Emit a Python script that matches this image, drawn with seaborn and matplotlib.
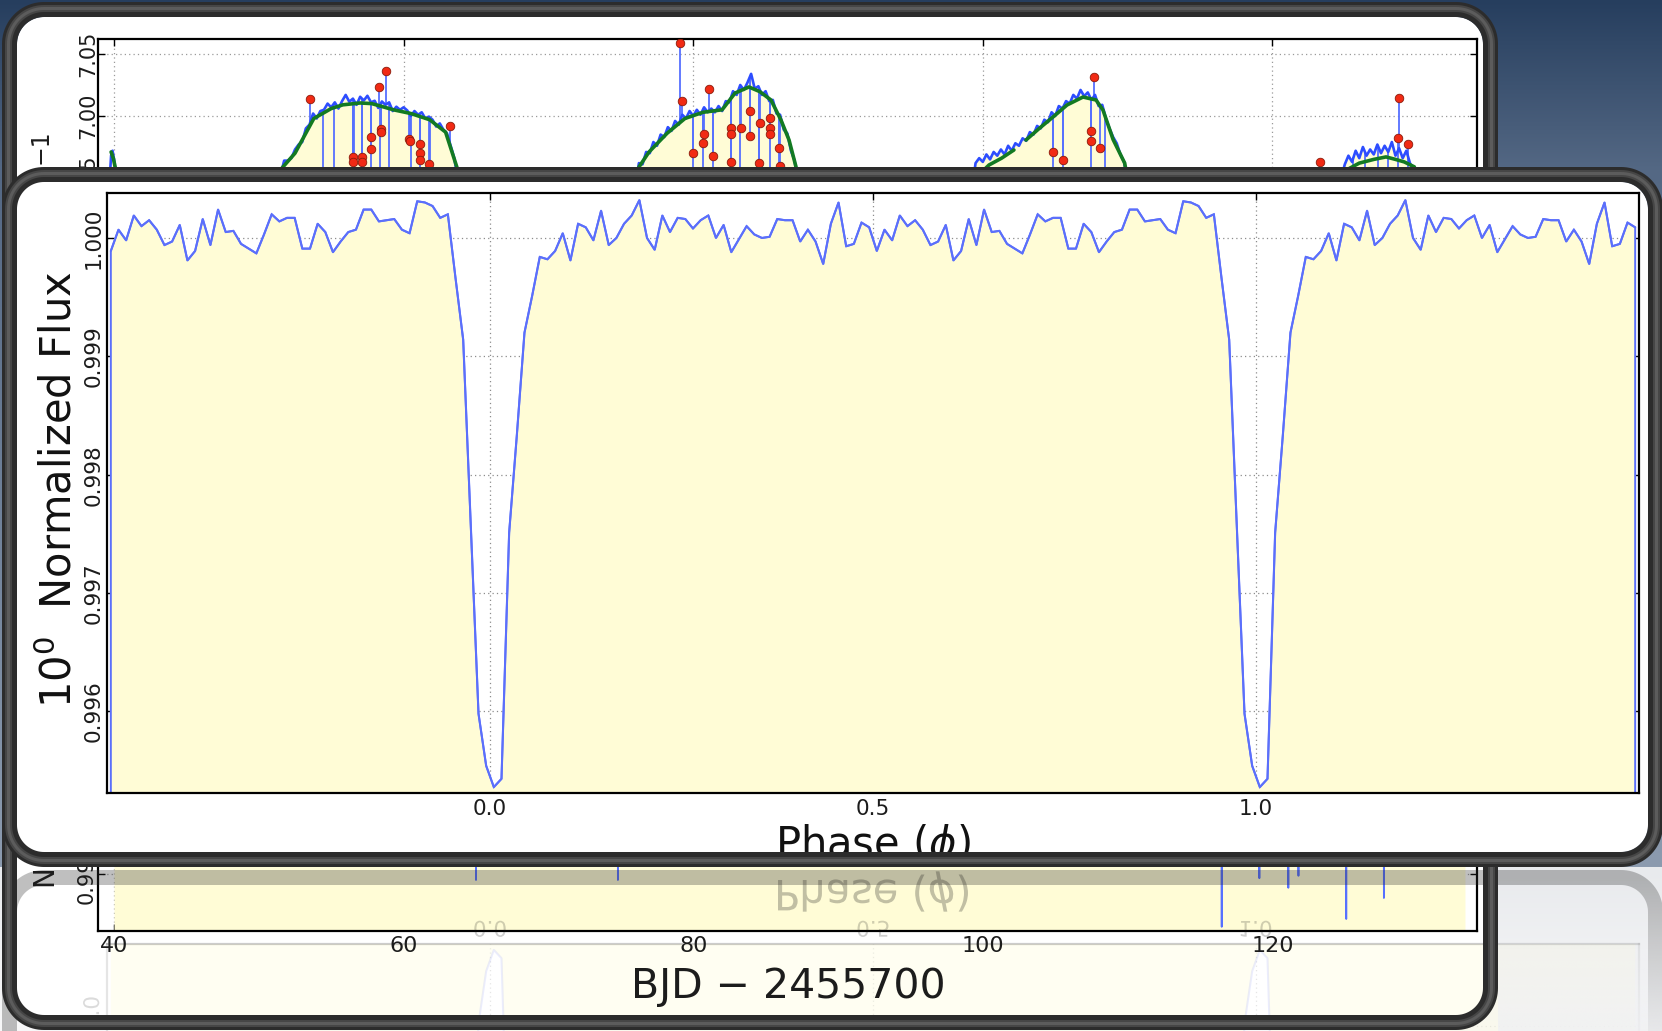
import numpy as np
import matplotlib
matplotlib.use("Agg")
import matplotlib.pyplot as plt
import seaborn as sns
from matplotlib.path import Path
from matplotlib.patches import PathPatch
from matplotlib.textpath import TextPath
from matplotlib.font_manager import FontProperties
from matplotlib.transforms import Affine2D, blended_transform_factory

# ---------------------------------------------------------------- data
# phase-folded transit light curve (one cycle, drawn twice)
phase_bins = np.round(np.arange(-0.495, 0.4951, 0.01), 3)
folded_flux = [
    0.99989, 1.00007, 0.99998, 1.00019, 1.00010, 1.00015, 1.00007, 0.99994, 0.99997, 1.00011,
    0.99981, 0.99989, 1.00016, 0.99994, 1.00024, 1.00005, 1.00006, 0.99995, 0.99991, 0.99987,
    1.00003, 1.00020, 1.00014, 1.00017, 1.00017, 0.99991, 0.99991, 1.00012, 1.00005, 0.99988,
    0.99997, 1.00005, 1.00007, 1.00024, 1.00024, 1.00014, 1.00015, 1.00016, 1.00007, 1.00004,
    1.00031, 1.00030, 1.00027, 1.00017, 1.00020, 0.99966, 0.99914, 0.99755, 0.99598, 0.99554,
    0.99536, 0.99543, 0.99751, 0.99833, 0.99920, 0.99951, 0.99984, 0.99982, 0.99989, 1.00004,
    0.99981, 1.00012, 1.00009, 0.99998, 1.00023, 0.99994, 1.00000, 1.00012, 1.00019, 1.00032,
    1.00000, 0.99990, 1.00019, 1.00005, 1.00017, 1.00016, 1.00008, 1.00015, 1.00019, 1.00000,
    1.00011, 0.99988, 0.99999, 1.00010, 1.00003, 1.00000, 1.00001, 1.00016, 1.00015, 1.00015,
    0.99997, 1.00007, 0.99997, 0.99978, 1.00012, 1.00030, 0.99993, 0.99995, 1.00013, 1.00009,
]
phase_ticks = [0.0, 0.5, 1.0]
phase_tick_labels = ["0.0", "0.5", "1.0"]
flux_ticks = [0.996, 0.997, 0.998, 0.999, 1.000]
flux_tick_labels = ["0.996", "0.997", "0.998", "0.999", "1.000"]

# raw photometry by observing segment (quarter-day cadence)
seg0_days = [39.6, 39.8, 39.9, 40.05, 40.2]
seg0_flux = [6.930, 6.968, 6.972, 6.962, 6.930]
seg1_days = np.r_[51.0, np.arange(51.25, 63.76, 0.25), 64.0]
seg1_flux = [6.930, 6.948, 6.952, 6.964, 6.964, 6.966, 6.973, 6.977, 6.979, 6.990, 6.993,
             7.002, 6.998, 7.004, 7.005, 7.010, 7.007, 7.011, 7.006, 7.012, 7.017, 7.0115,
             7.014, 7.009, 7.0155, 7.0125, 7.0163, 7.011, 7.0123, 7.0065, 7.0117, 7.009,
             7.011, 7.004, 7.0075, 7.005, 7.007, 7.0045, 7.000, 7.004, 7.001, 7.003, 6.998,
             6.9995, 6.997, 6.9915, 6.994, 6.989, 6.986, 6.976, 6.966, 6.948, 6.930]
seg2_days = np.r_[75.8, np.arange(76.0, 87.26, 0.25), 87.4]
seg2_flux = [6.930, 6.944, 6.962, 6.961, 6.971, 6.970, 6.979, 6.976, 6.985, 6.983, 6.991,
             6.988, 6.996, 6.993, 7.001, 6.998, 7.004, 7.000, 7.005, 7.001, 7.007, 7.003,
             7.006, 7.003, 7.008, 7.004, 7.012, 7.011, 7.020, 7.017, 7.025, 7.021, 7.027,
             7.034, 7.022, 7.024, 7.017, 7.020, 7.012, 7.013, 7.002, 7.001, 6.989, 6.986,
             6.972, 6.964, 6.944, 6.930]
seg3_days = np.r_[99.25, np.arange(99.5, 110.01, 0.25), 110.2]
seg3_flux = [6.940, 6.962, 6.966, 6.963, 6.969, 6.965, 6.971, 6.968, 6.973, 6.969, 6.976,
             6.972, 6.978, 6.976, 6.982, 6.980, 6.987, 6.985, 6.992, 6.990, 6.997, 6.995,
             7.003, 7.000, 7.008, 7.006, 7.012, 7.010, 7.017, 7.014, 7.021, 7.016, 7.019,
             7.013, 7.017, 7.008, 7.009, 6.998, 6.990, 6.983, 6.978, 6.969, 6.963, 6.948,
             6.930]
seg4_days = np.r_[124.5, np.arange(124.75, 129.76, 0.25), 130.0]
seg4_flux = [6.930, 6.950, 6.961, 6.968, 6.963, 6.972, 6.966, 6.975, 6.968, 6.973, 6.969,
             6.977, 6.970, 6.976, 6.971, 6.979, 6.968, 6.974, 6.966, 6.972, 6.962, 6.957,
             6.930]

# smooth trend model pieces
trend = [
    ([39.8, 39.95, 40.15], [6.971, 6.966, 6.955]),
    ([51.0, 51.6, 52.5, 53.8, 55.0, 55.8, 57.0, 57.8, 59.3, 60.5, 61.8, 62.9, 63.7, 64.0],
     [6.935, 6.958, 6.970, 6.998, 7.006, 7.009, 7.0105, 7.010, 7.005, 7.002, 6.997, 6.987, 6.958, 6.935]),
    ([75.8, 76.26, 76.95, 78.19, 79.43, 80.68, 81.99, 82.13, 82.89, 83.85, 84.61, 85.37, 86.06, 86.62, 87.1, 87.4],
     [6.930, 6.959, 6.971, 6.986, 6.998, 7.003, 7.005, 7.007, 7.0185, 7.0234, 7.0196, 7.0129, 6.9968, 6.9806, 6.959, 6.930]),
    ([99.5, 100.43, 101.3, 102.15], [6.950, 6.9605, 6.966, 6.9726]),
    ([102.98, 103.9, 104.85, 105.82, 106.92, 107.82, 108.3, 109.0, 109.8, 110.2],
     [6.9806, 6.990, 6.9992, 7.0089, 7.0153, 7.0129, 7.0048, 6.981, 6.962, 6.935]),
    ([124.6, 125.2, 126.0, 127.0, 127.85, 128.5, 129.1, 129.8, 130.1],
     [6.940, 6.957, 6.962, 6.965, 6.967, 6.965, 6.963, 6.959, 6.940]),
]

# flagged outliers
outlier_days = [53.54, 58.30, 58.78, 57.75, 57.75, 58.44, 58.44, 60.37, 60.44, 61.13, 61.13, 61.13,
                61.75, 63.20, 56.50, 56.50, 57.13, 57.13,
                79.09, 79.23, 81.09, 79.99, 80.75, 80.68, 81.37, 82.62, 82.62, 82.62, 83.30, 83.92,
                83.92, 84.54, 84.61, 85.30, 85.30, 85.30, 85.93, 86.00,
                107.68, 107.47, 107.47, 104.85, 105.54, 108.09,
                128.74, 128.67, 129.36, 123.29]
outlier_flux = [7.0137, 7.0234, 7.0363, 6.9831, 6.9734, 6.9895, 6.9871, 6.9815, 6.9798, 6.9774, 6.9702, 6.9645,
                6.9613, 6.9919, 6.9669, 6.9629, 6.9669, 6.9629,
                7.0589, 7.0121, 7.0218, 6.9702, 6.9855, 6.9782, 6.9677, 6.9903, 6.9855, 6.9629, 6.9903, 7.0040,
                6.9839, 6.9621, 6.9944, 6.9984, 6.9903, 6.9855, 6.9742, 6.9597,
                7.0315, 6.9879, 6.9798, 6.9710, 6.9645, 6.9742,
                7.0145, 6.9823, 6.9774, 6.9629]
deep_days = [54.43, 55.19, 56.57, 57.13, 57.75, 58.37, 58.99, 60.51, 61.13, 61.82,
             79.99, 80.68, 81.37, 82.62, 83.24, 84.54, 85.30, 85.93,
             104.85, 105.54, 107.47, 108.44, 125.6, 126.4, 127.3, 128.0, 128.67, 129.36]
deep_floor = 6.90

# detrended, normalized series
norm_days = [40.0, 64.97, 65.0, 65.03, 74.77, 74.8, 74.83, 116.47, 116.5, 116.53, 119.07, 119.1,
             119.13, 121.07, 121.1, 121.13, 121.77, 121.8, 121.83, 125.07, 125.1, 125.13, 127.67,
             127.7, 127.73, 133.3]
norm_flux = [1.0, 1.0, 0.9949, 1.0, 1.0, 0.9949, 1.0, 1.0, 0.99412, 1.0, 1.0, 0.99493, 1.0, 1.0,
             0.99477, 1.0, 1.0, 0.99497, 1.0, 1.0, 0.99425, 1.0, 1.0, 0.9946, 1.0, 1.0]
day_ticks = [40, 60, 80, 100, 120]
day_tick_labels = ["40", "60", "80", "100", "120"]
raw_ticks = [6.95, 7.00, 7.05]
raw_tick_labels = ["6.95", "7.00", "7.05"]
norm_ticks = [0.995, 0.996, 0.997, 0.998, 0.999, 1.000]
norm_label_ticks = [0.995]
norm_label_text = ["0.995"]

# ---------------------------------------------------------------- style
sns.set_theme(style="white")
plt.rcParams["font.family"] = ["DejaVu Sans"]
plt.rcParams["mathtext.fontset"] = "dejavusans"
plt.rcParams["axes.unicode_minus"] = True

FILL = "#fffcd6"
BLUE = "#5b6ffb"
RAW_BLUE = "#2d4dff"
STEM = "#5670ff"
GREEN = "#137a22"
RED = "#f12a14"
GRID_LS = (0, (1.0, 2.5))
INK = "#1c1c1c"

W, H = 1662, 1031
fig = plt.figure(figsize=(W / 100, H / 100), dpi=100)


def px_axes(x0, y0, x1, y1, z):
    return fig.add_axes([x0 / W, 1 - y1 / H, (x1 - x0) / W, (y1 - y0) / H], zorder=z)


def overlay(z):
    ax = fig.add_axes([0, 0, 1, 1], zorder=z)
    ax.set_xlim(0, W)
    ax.set_ylim(H, 0)
    ax.set_autoscale_on(False)
    ax.axis("off")
    return ax


def rr(x0, y0, x1, y1, r, n=24):
    pts = []
    for cx, cy, a0 in [(x1 - r, y0 + r, -90), (x1 - r, y1 - r, 0),
                       (x0 + r, y1 - r, 90), (x0 + r, y0 + r, 180)]:
        a = np.radians(np.linspace(a0, a0 + 90, n))
        pts.append(np.c_[cx + r * np.cos(a), cy + r * np.sin(a)])
    v = np.vstack(pts)
    return np.vstack([v, v[:1]])


def ring(box, r, t0, t1):
    x0, y0, x1, y1 = box
    outer = rr(x0 + t0, y0 + t0, x1 - t0, y1 - t0, r - t0)
    inner = rr(x0 + t1, y0 + t1, x1 - t1, y1 - t1, r - t1)[::-1]
    return Path.make_compound_path(Path(outer, closed=True), Path(inner, closed=True))


def card_face(ax, box, r, border=15):
    x0, y0, x1, y1 = box
    ax.add_patch(PathPatch(Path(rr(x0 + border, y0 + border, x1 - border, y1 - border, r - border),
                                closed=True), fc="white", ec="none"))


def card_rim(ax, box, r, border=15, alpha=1.0, shade=True):
    layers = [(0, border, "#2c2c2c")]
    if shade:
        layers += [(3, 10, "#464646"), (5, 8, "#5c5c5c")]
    for a, b, c in layers:
        ax.add_patch(PathPatch(ring(box, r, a, b), fc=c, ec="none", alpha=alpha))


FP = FontProperties(family="DejaVu Sans")


def mirrored_text(ax, s, x, y, size_pt, alpha, vertical=False):
    tp = TextPath((0, 0), s, size=size_pt * 100 / 72, prop=FP)
    e = tp.get_extents()
    tr = Affine2D().translate(-(e.x0 + e.x1) / 2, 0)
    if vertical:
        tr = tr.rotate_deg(90)
    tr = tr.translate(x, y)
    ax.add_patch(PathPatch(tr.transform_path(tp), fc="#111111", ec="none", lw=0, alpha=alpha))


BACK = (2, 2, 1498, 1030)
FRONT = (2, 167, 1663, 867)
MIRROR = 868.5
RFRONT = (2, 2 * MIRROR - 867, 1663, 2 * MIRROR - 167)

# ---------------------------------------------------------------- backdrop + back card face
ax_bg = overlay(0)
ys = np.arange(H)
stops_y = [0, 170, 866, 867, 1031]
stops_c = np.array([[38, 62, 94], [84, 104, 132], [140, 155, 175],
                    [232, 234, 237], [248, 248, 249]]) / 255.0
grad = np.stack([np.interp(ys, stops_y, stops_c[:, i]) for i in range(3)], axis=-1)[:, None, :]
ax_bg.imshow(grad, extent=(0, W, H, 0), aspect="auto", interpolation="bilinear", zorder=0)
ax_bg.set_xlim(0, W)
ax_bg.set_ylim(H, 0)
card_face(ax_bg, BACK, 42)
PX = ax_bg.transData

# ---------------------------------------------------------------- back card: raw light curve
axt = px_axes(98, 39, 1477, 500, 1)
t_lo = 7.05 - 446 * 0.05 / 62
axt.set_xlim(38.895, 134.13)
axt.set_ylim(t_lo, 7.05 + 15 * 0.05 / 62)
segments = [(seg0_days, seg0_flux), (seg1_days, seg1_flux), (seg2_days, seg2_flux),
            (seg3_days, seg3_flux), (seg4_days, seg4_flux)]
all_days = np.concatenate([np.asarray(d, float) for d, _ in segments])
all_flux = np.concatenate([np.asarray(f, float) for _, f in segments])
for d, f in segments:
    axt.fill_between(d, f, t_lo, color=FILL, lw=0, zorder=1)
base_out = np.interp(outlier_days, all_days, all_flux)
axt.vlines(outlier_days, np.minimum(outlier_flux, base_out), np.maximum(outlier_flux, base_out),
           color=STEM, lw=1.3, zorder=2)
axt.vlines(deep_days, deep_floor, np.interp(deep_days, all_days, all_flux), color=STEM, lw=1.3, zorder=2)
for d, f in segments:
    sns.lineplot(x=d, y=f, ax=axt, color=RAW_BLUE, linewidth=1.9, sort=False, estimator=None, zorder=3)
for d, f in trend:
    sns.lineplot(x=d, y=f, ax=axt, color=GREEN, linewidth=2.6, sort=False, estimator=None, zorder=4)
sns.scatterplot(x=outlier_days, y=outlier_flux, ax=axt, color=RED, edgecolor="#8a1a0a",
                s=38, linewidth=0.6, zorder=5)
axt.set_xticks(day_ticks)
axt.set_yticks(raw_ticks)
axt.set_yticklabels(raw_tick_labels, rotation=90, va="center")
axt.tick_params(direction="in", length=5, width=1, colors="black", labelcolor=INK,
                bottom=True, left=True, top=True, right=True, labelbottom=False,
                labelsize=15, pad=0)
axt.grid(True, ls=GRID_LS, color="#9a9a9a", lw=0.9)
axt.set_xlabel("")
axt.set_ylabel("")
for s in axt.spines.values():
    s.set_color("black")
    s.set_linewidth(1.6)
axt.text(41, 147, "\u22121", transform=PX, rotation=90, rotation_mode="anchor",
         ha="center", va="center", fontsize=17, color=INK)

# ---------------------------------------------------------------- back card: normalized series
axb = px_axes(98, 530, 1477, 931, 1)
b_lo = 0.995 - 57 / 60000
axb.set_xlim(38.895, 134.13)
axb.set_ylim(b_lo, 0.995 + 344 / 60000)
axb.fill_between(norm_days, norm_flux, b_lo, color=FILL, lw=0, zorder=1)
sns.lineplot(x=norm_days, y=norm_flux, ax=axb, color=STEM, linewidth=1.3, sort=False,
             estimator=None, zorder=3)
axb.set_xticks(day_ticks)
axb.set_yticks(norm_ticks)
axb.tick_params(direction="in", length=5, width=1, colors="black",
                bottom=True, left=True, top=True, right=True,
                labelbottom=False, labelleft=False)
axb.grid(True, ls=GRID_LS, color="#9a9a9a", lw=0.9)
axb.set_xlabel("")
axb.set_ylabel("")
for s in axb.spines.values():
    s.set_color("black")
    s.set_linewidth(1.6)

# ---------------------------------------------------------------- floor reflection of the front card
phase_all = np.concatenate([phase_bins, phase_bins + 1.0])
flux_all = np.tile(folded_flux, 2)
f_lo, f_hi = 0.99531, 1.00038
poly_x = np.r_[phase_all[0], phase_all, phase_all[-1]]
poly_y = np.r_[f_lo, flux_all, f_lo]

y_ax0, y_ax1 = 2 * MIRROR - 793, 2 * MIRROR - 193
axr = px_axes(107, y_ax0, 1639, y_ax1, 1.8)
axr.set_facecolor("none")
axr.fill(poly_x, poly_y, facecolor=FILL, edgecolor="none", alpha=0.3, zorder=1)
sns.lineplot(x=phase_all, y=flux_all, ax=axr, color=BLUE, linewidth=1.5, alpha=0.12,
             sort=False, estimator=None, zorder=3)
axr.set_xlim(-0.5, 1.5)
axr.set_ylim(f_hi, f_lo)
axr.set_xticks(phase_ticks)
axr.set_yticks(flux_ticks)
axr.tick_params(length=0, labelbottom=False, labelleft=False)
axr.grid(True, ls=GRID_LS, color="#9a9a9a", lw=0.9, alpha=0.25)
axr.set_xlabel("")
axr.set_ylabel("")
for name, s in axr.spines.items():
    s.set_color("black")
    s.set_linewidth(1.6)
    s.set_alpha(0.2 if name == "top" else 0.1)

ax_ro = overlay(2)
card_rim(ax_ro, RFRONT, 42, alpha=0.3, shade=False)
mirrored_text(ax_ro, r"Phase ($\phi$)", 873, 2 * MIRROR - 857, 30, 0.26)
for p, lab in zip(phase_ticks, phase_tick_labels):
    mirrored_text(ax_ro, lab, 490 + p * 766, 2 * MIRROR - 816, 15.5, 0.2)
for v, lab in zip(flux_ticks, flux_tick_labels):
    yc = 237 + (1.0 - v) / 0.001 * 118.3
    mirrored_text(ax_ro, lab, 99, 2 * MIRROR - yc, 15.5, 0.15, vertical=True)
fade = np.zeros((160, 1, 4))
fade[..., :3] = np.array([240, 241, 243]) / 255.0
fade[..., 3] = np.linspace(0.0, 0.85, 160)[:, None]
ax_ro.imshow(fade, extent=(1498, W, H, 878), aspect="auto", interpolation="bilinear", zorder=6)
ax_ro.set_xlim(0, W)
ax_ro.set_ylim(H, 0)

# ---------------------------------------------------------------- back card rim and lower labels (above the reflection)
ax_bk = overlay(2.2)
card_rim(ax_bk, BACK, 42)
tx_days = blended_transform_factory(axb.transData, PX)
for d, lab in zip(day_ticks, day_tick_labels):
    ax_bk.text(d, 936, lab, transform=tx_days, ha="center", va="top", fontsize=16, color=INK)
tx_norm = blended_transform_factory(PX, axb.transData)
for v, lab in zip(norm_label_ticks, norm_label_text):
    ax_bk.text(97, v, lab, transform=tx_norm, rotation=90, ha="right", va="center",
               fontsize=15, color=INK)
ax_bk.text(788, 998, "BJD \u2212 2455700", transform=PX, ha="center", va="baseline",
           fontsize=29.5, color=INK)
ax_bk.text(55, 888, "Normalized Flux", transform=PX, rotation=90, rotation_mode="anchor",
           ha="left", va="baseline", fontsize=20, color=INK)

# ---------------------------------------------------------------- front card: phase-folded curve
ax_fc = overlay(3)
card_face(ax_fc, FRONT, 42)

axf = px_axes(107, 193, 1639, 793, 4)
axf.set_facecolor("none")
axf.fill(poly_x, poly_y, facecolor=FILL, edgecolor=BLUE, lw=1.4, zorder=1)
sns.lineplot(x=phase_all, y=flux_all, ax=axf, color=BLUE, linewidth=1.5, sort=False,
             estimator=None, zorder=3)
axf.set_xlim(-0.5, 1.5)
axf.set_ylim(f_lo, f_hi)
axf.set_xticks(phase_ticks)
axf.set_xticklabels(phase_tick_labels)
axf.set_yticks(flux_ticks)
axf.set_yticklabels(flux_tick_labels, rotation=90, va="center")
axf.tick_params(direction="in", length=5, width=1, colors="black", labelcolor=INK,
                bottom=True, left=True, top=True, right=True, labelsize=15.5)
axf.tick_params(axis="x", pad=4.5)
axf.tick_params(axis="y", pad=2.5)
axf.grid(True, ls=GRID_LS, color="#8c8c8c", lw=0.9)
axf.set_xlabel("")
axf.set_ylabel("")
for s in axf.spines.values():
    s.set_color("black")
    s.set_linewidth(1.6)
axf.text(72, 490, r"$10^0$  Normalized Flux", transform=PX, rotation=90, rotation_mode="anchor",
         ha="center", va="baseline", fontsize=30, color="#111111", clip_on=False)
axf.text(873, 857, r"Phase ($\phi$)", transform=PX, ha="center", va="baseline",
         fontsize=30, color="#111111", clip_on=False)

ax_rim = overlay(5)
card_rim(ax_rim, FRONT, 42)

fig.savefig("out.png", dpi=100)
